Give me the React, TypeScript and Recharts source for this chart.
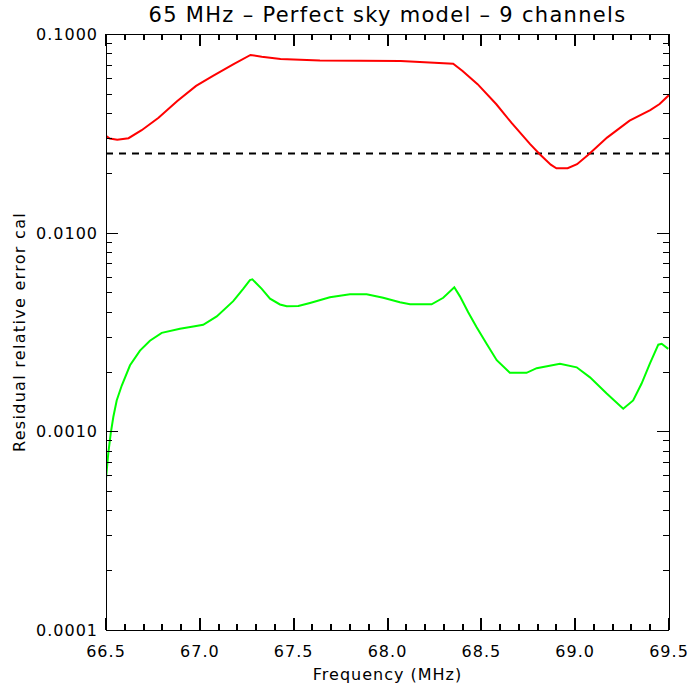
import { Label, Line, LineChart, ReferenceLine, XAxis, YAxis } from 'recharts';

// frequency (MHz) / residual relative error
const redFreq = [66.5, 66.52, 66.56, 66.62, 66.69, 66.78, 66.88, 66.98, 67.07, 67.18, 67.27, 67.33, 67.43, 67.64, 68.07, 68.35, 68.4, 68.48, 68.58, 68.66, 68.76, 68.81, 68.87, 68.9, 68.96, 69.01, 69.07, 69.17, 69.29, 69.4, 69.45, 69.5];
const redErr = [0.0307, 0.0298, 0.0294, 0.0299, 0.0328, 0.0379, 0.046, 0.0548, 0.0615, 0.0705, 0.0784, 0.0769, 0.0749, 0.0736, 0.0731, 0.0709, 0.0652, 0.0559, 0.0443, 0.0358, 0.0279, 0.0249, 0.022, 0.0211, 0.0211, 0.0221, 0.0247, 0.0301, 0.0366, 0.0414, 0.0444, 0.0493];

const greenFreq = [66.5, 66.504, 66.512, 66.525, 66.539, 66.557, 66.584, 66.628, 66.681, 66.734, 66.797, 66.894, 66.965, 67.018, 67.09, 67.178, 67.231, 67.267, 67.28, 67.33, 67.374, 67.427, 67.463, 67.525, 67.587, 67.693, 67.8, 67.889, 67.977, 68.066, 68.12, 68.235, 68.297, 68.356, 68.386, 68.43, 68.475, 68.528, 68.582, 68.652, 68.741, 68.795, 68.919, 69.008, 69.079, 69.168, 69.256, 69.309, 69.354, 69.398, 69.443, 69.461, 69.496];
const greenErr = [0.000578, 0.000637, 0.000773, 0.000975, 0.00118, 0.00143, 0.0017, 0.00215, 0.00255, 0.00286, 0.00313, 0.00328, 0.00337, 0.00344, 0.00379, 0.00452, 0.00521, 0.00577, 0.00582, 0.00521, 0.00465, 0.00435, 0.00426, 0.00427, 0.00443, 0.00473, 0.0049, 0.0049, 0.0047, 0.00446, 0.00436, 0.00436, 0.0047, 0.00531, 0.00478, 0.00398, 0.00334, 0.00276, 0.00228, 0.00197, 0.00197, 0.00208, 0.00219, 0.0021, 0.00187, 0.00155, 0.0013, 0.00143, 0.00174, 0.00219, 0.00273, 0.00276, 0.0026];

const threshold = 0.025;

const xTicks = Array.from({ length: 31 }, (_, i) => +(66.5 + i * 0.1).toFixed(1));
const yDecades = [0.0001, 0.001, 0.01, 0.1];
const yTicks = yDecades.flatMap((d) => (d < 0.1 ? [1, 2, 3, 4, 5, 6, 7, 8, 9].map((m) => +(d * m).toPrecision(2)) : [d]));

const redData = redFreq.map((f, i) => ({ f, v: redErr[i] }));
const greenData = greenFreq.map((f, i) => ({ f, v: greenErr[i] }));

const FONT = 'DejaVu Sans';
const isMajorX = (v: number) => Math.abs(v * 2 - Math.round(v * 2)) < 1e-6;
const isMajorY = (v: number) => yDecades.some((d) => Math.abs(d - v) < d * 1e-6);

// ticks point inward, like the IDL frame
const XTick = ({ x, y, payload, side }: any) => {
  const major = isMajorX(payload.value);
  const len = major ? 12 : 6;
  const px = Math.round(x) - 1;
  const py = Math.round(y);
  return (
    <g>
      <rect x={px} y={side === 'top' ? py : py - len} width={2} height={len} fill="#000" shapeRendering="crispEdges" />
      {side !== 'top' && major && (
        <text x={x} y={y + 27} textAnchor="middle" fontSize={16} letterSpacing={1} fontFamily={FONT} fill="#000">
          {payload.value.toFixed(1)}
        </text>
      )}
    </g>
  );
};

const YTick = ({ x, y, payload, side }: any) => {
  const major = isMajorY(payload.value);
  const len = major ? 12 : 6;
  const px = Math.round(x);
  const py = Math.round(y);
  return (
    <g>
      <rect x={side === 'right' ? px - len : px} y={py} width={len} height={1} fill="#000" shapeRendering="crispEdges" />
      {side !== 'right' && major && (
        <text x={x - 8} y={y + 6} textAnchor="end" fontSize={16} letterSpacing={1} fontFamily={FONT} fill="#000">
          {payload.value.toFixed(4)}
        </text>
      )}
    </g>
  );
};

const frame = { stroke: '#000', shapeRendering: 'crispEdges' };

export default function App() {
  return (
    <div style={{ position: 'absolute', left: 0, top: 0, width: 700, height: 700, background: '#fff', fontFamily: FONT }}>
      <div style={{ position: 'absolute', top: 3, left: 106, width: 563, textAlign: 'center', fontSize: 21, letterSpacing: 1.3, color: '#000' }}>
        65 MHz – Perfect sky model – 9 channels
      </div>
      <LineChart width={700} height={700} margin={{ top: 0, right: 0, bottom: 0, left: 0 }}>
        <XAxis
          xAxisId="b"
          dataKey="f"
          type="number"
          domain={[66.5, 69.5]}
          allowDataOverflow
          ticks={xTicks}
          interval={0}
          height={70}
          tickSize={0}
          tickMargin={0}
          tickLine={false}
          axisLine={frame}
          tick={<XTick side="bottom" />}
        >
          <Label value="Frequency (MHz)" position="insideBottom" offset={20} fontSize={16} letterSpacing={1} fontFamily={FONT} fill="#000" />
        </XAxis>
        <XAxis
          xAxisId="t"
          orientation="top"
          dataKey="f"
          type="number"
          domain={[66.5, 69.5]}
          allowDataOverflow
          ticks={xTicks}
          interval={0}
          height={34}
          tickSize={0}
          tickMargin={0}
          tickLine={false}
          axisLine={frame}
          tick={<XTick side="top" />}
        />
        <YAxis
          yAxisId="l"
          scale="log"
          domain={[0.0001, 0.1]}
          allowDataOverflow
          ticks={yTicks}
          interval={0}
          width={106}
          tickSize={0}
          tickMargin={0}
          tickLine={false}
          axisLine={frame}
          tick={<YTick side="left" />}
          label={{
            content: ({ viewBox }: any) => (
              <text
                transform={`translate(${viewBox.x + 19},${viewBox.y + viewBox.height / 2}) rotate(-90)`}
                textAnchor="middle"
                dominantBaseline="central"
                fontSize={16}
                letterSpacing={1.3}
                fontFamily={FONT}
                fill="#000"
              >
                Residual relative error cal
              </text>
            ),
          }}
        />
        <YAxis
          yAxisId="r"
          orientation="right"
          scale="log"
          domain={[0.0001, 0.1]}
          allowDataOverflow
          ticks={yTicks}
          interval={0}
          width={31}
          tickSize={0}
          tickMargin={0}
          tickLine={false}
          axisLine={frame}
          tick={<YTick side="right" />}
        />
        <ReferenceLine xAxisId="b" yAxisId="l" y={threshold} stroke="#000" strokeWidth={2} strokeDasharray="7 6" />
        <Line xAxisId="b" yAxisId="l" data={redData} dataKey="v" type="linear" stroke="#ff0000" strokeWidth={2} dot={false} isAnimationActive={false} />
        <Line xAxisId="b" yAxisId="l" data={greenData} dataKey="v" type="linear" stroke="#00ff00" strokeWidth={2} dot={false} isAnimationActive={false} />
      </LineChart>
    </div>
  );
}
